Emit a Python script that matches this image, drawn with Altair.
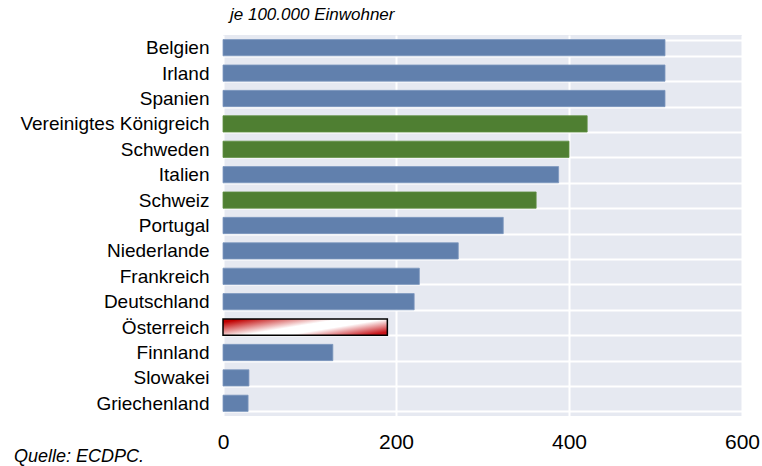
import altair as alt
import pandas as pd

# Cases per 100,000 inhabitants by country
countries = ["Belgien", "Irland", "Spanien", "Vereinigtes Königreich", "Schweden",
             "Italien", "Schweiz", "Portugal", "Niederlande", "Frankreich",
             "Deutschland", "Österreich", "Finnland", "Slowakei", "Griechenland"]
values = [511, 511, 511, 421, 400, 388, 362, 324, 272, 227, 221, 190, 127, 30, 29]
groups = ["blau", "blau", "blau", "grün", "grün", "blau", "grün", "blau", "blau",
          "blau", "blau", "hervor", "blau", "blau", "blau"]

df = pd.DataFrame({"land": countries, "wert": values, "gruppe": groups})

FONT = "Liberation Sans"

y_enc = alt.Y(
    "land:N", sort=countries, title=None,
    scale=alt.Scale(paddingInner=0.36, paddingOuter=0.18),
    axis=alt.Axis(labelFontSize=19, labelColor="#000000", labelFont=FONT,
                  labelPadding=14, labelLimit=400, ticks=False, domain=False,
                  grid=True, gridColor="#ffffff", gridWidth=2, tickBand="extent"),
)
x_enc = alt.X(
    "wert:Q", title=None,
    scale=alt.Scale(domain=[0, 600], nice=False),
    axis=alt.Axis(values=[0, 200, 400, 600], labelFontSize=21, labelColor="#000000",
                  labelFont=FONT, labelPadding=15, ticks=False, domain=False,
                  grid=True, gridColor="#ffffff", gridWidth=2,
                  labelFlush=False),
)

bars = alt.Chart(df).transform_filter(alt.datum.gruppe != "hervor").mark_bar(
    strokeWidth=0.8
).encode(
    y=y_enc, x=x_enc,
    color=alt.Color("gruppe:N", legend=None,
                    scale=alt.Scale(domain=["blau", "grün"], range=["#6180ad", "#4f7f32"])),
    stroke=alt.Color("gruppe:N", legend=None,
                     scale=alt.Scale(domain=["blau", "grün"], range=["#7e98bf", "#5f8f42"])),
)

highlight = alt.Chart(df).transform_filter(alt.datum.gruppe == "hervor").mark_bar(
    fill=alt.Gradient(
        gradient="linear", x1=0, y1=0.2, x2=1, y2=0.8,
        stops=[alt.GradientStop(offset=0, color="#c00000"),
               alt.GradientStop(offset=0.44, color="#ffffff"),
               alt.GradientStop(offset=0.64, color="#ffffff"),
               alt.GradientStop(offset=1, color="#c8141a")],
    ),
    stroke="#000000", strokeWidth=1.5,
).encode(y=y_enc, x=x_enc)

subtitle = alt.Chart(pd.DataFrame({"t": ["je 100.000 Einwohner"]})).mark_text(
    align="left", baseline="middle", fontStyle="italic", fontSize=17, font=FONT,
    color="#000000",
).encode(x=alt.value(7), y=alt.value(-20), text="t:N")

source = alt.Chart(pd.DataFrame({"t": ["Quelle: ECDPC."]})).mark_text(
    align="left", baseline="middle", fontStyle="italic", fontSize=18, font=FONT,
    color="#000000",
).encode(x=alt.value(-209), y=alt.value(422), text="t:N")

chart = alt.layer(bars, highlight, subtitle, source).properties(
    width=519, height=381,
    autosize=alt.AutoSizeParams(type="none"),
    padding={"left": 223, "top": 35, "right": 20, "bottom": 50},
    background="#ffffff",
).configure_view(fill="#e6e9f1", stroke=None)

chart.save("out.html", embed_options={"renderer": "svg", "actions": False})
